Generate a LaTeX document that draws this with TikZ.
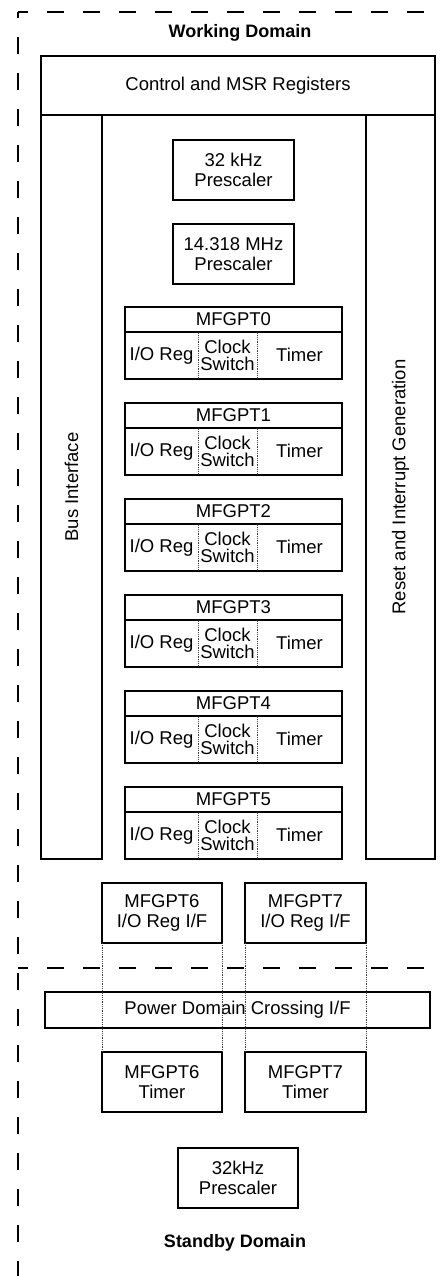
\documentclass[tikz,border=0pt]{standalone}
\usepackage{fontspec}
\setmainfont{Liberation Sans}
\usetikzlibrary{positioning}

\begin{document}
\begin{tikzpicture}[x=1pt, y=-1pt,
  blk/.style={draw, line width=2pt, inner sep=0pt, outer sep=0pt, align=center, font=\fontsize{18.5}{19.5}\selectfont},
  cell/.style={inner sep=0pt, outer sep=0pt, align=center, minimum height=47.5pt, font=\fontsize{18.5}{17.5}\selectfont},
  domlbl/.style={font=\fontsize{18}{20}\selectfont\bfseries},
  domline/.style={line width=2pt, dash pattern=on 17pt off 19pt},
  xing/.style={line width=0.8pt, densely dotted, black!75}
]
  \useasboundingbox (0,0) rectangle (443,1276);

  % Domain borders
  \coordinate (dc) at (18,12);
  \coordinate (dm) at (18,968);
  \draw[domline, dash phase=7pt] (dc) -- (443,12);
  \draw[domline, dash phase=11pt] (dc) -- (18,1276);
  \draw[domline, dash phase=7pt] (dm) -- (443,968);
  \node[domlbl] (wdom) at (240,33) {Working Domain};
  \node[domlbl] (sdom) at (235,1243) {Standby Domain};

  % Working domain blocks
  \node[blk, minimum width=394pt, minimum height=59pt] (ctrl) at (238,85.5) {Control and MSR Registers};
  \node[blk, rotate=90, minimum width=744pt, minimum height=61pt] (bus) at (71.5,487) {Bus Interface};
  \node[blk, rotate=90, minimum width=744pt, minimum height=69pt] (rst) at (400.5,487) {Reset and Interrupt Generation};
  \node[blk, minimum width=121pt, minimum height=60pt] (pre32) at (233.5,170) {32 kHz\\Prescaler};
  \node[blk, minimum width=121pt, minimum height=60pt] (pre14) at (233.5,254) {14.318 MHz\\Prescaler};

  \foreach \k in {0,...,5}{
    \pgfmathsetmacro{\t}{307+96*\k}
    \node[blk, minimum width=217pt, minimum height=24.5pt] (mf\k) at (233.5,\t+12.25) {MFGPT\k};
    \node[blk, minimum width=217pt, minimum height=47.5pt, below=0pt of mf\k] (bd\k) {};
    \node[cell, minimum width=73pt, right=0pt of bd\k.west] (io\k) {I/O Reg};
    \node[cell, minimum width=59pt, right=0pt of io\k] (ck\k) {Clock\\Switch};
    \node[cell, minimum width=85pt, right=0pt of ck\k] (tm\k) {Timer};
    \draw[xing] (ck\k.north west) -- (ck\k.south west) (ck\k.north east) -- (ck\k.south east);
  }

  % Domain crossing
  \node[blk, minimum width=120pt, minimum height=60pt] (if6) at (162,913) {MFGPT6\\I/O Reg I/F};
  \node[blk, minimum width=121pt, minimum height=60pt] (if7) at (305.5,913) {MFGPT7\\I/O Reg I/F};
  \node[blk, minimum width=385pt, minimum height=36pt] (pdc) at (237.5,1010) {Power Domain Crossing I/F};
  \node[blk, minimum width=120pt, minimum height=60pt] (tmr6) at (162,1082) {MFGPT6\\Timer};
  \node[blk, minimum width=121pt, minimum height=60pt] (tmr7) at (305.5,1082) {MFGPT7\\Timer};
  \draw[xing] (if6.south west) -- (tmr6.north west) (if6.south east) -- (tmr6.north east);
  \draw[xing] (if7.south west) -- (tmr7.north west) (if7.south east) -- (tmr7.north east);

  % Standby domain
  \node[blk, minimum width=120pt, minimum height=60pt] (pre32s) at (238,1178) {32kHz\\Prescaler};
\end{tikzpicture}
\end{document}
